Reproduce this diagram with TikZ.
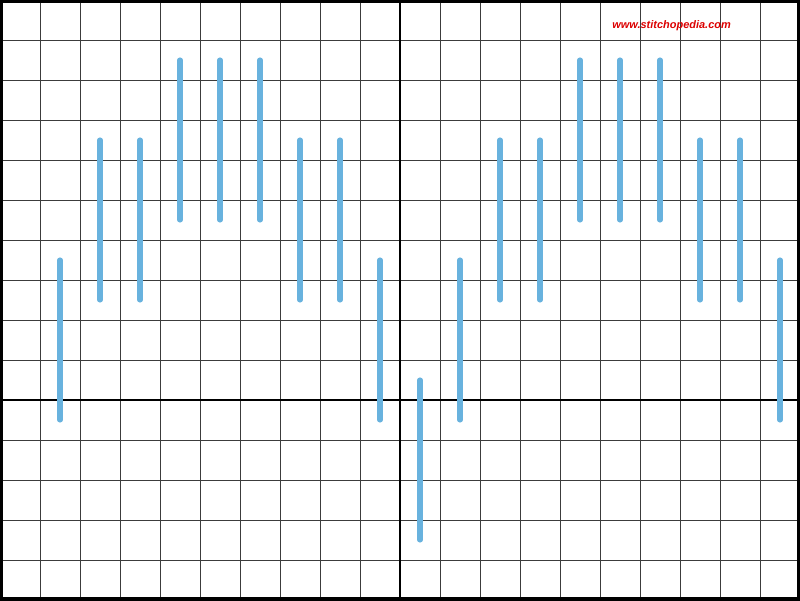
\documentclass[tikz,border=0pt]{standalone}
\usepackage{fontspec}
\setmainfont{Liberation Sans}
\usepackage{xcolor}
\usepackage{tikz}
\definecolor{stitchblue}{RGB}{104,178,222}
\definecolor{gridgray}{RGB}{60,60,60}
\definecolor{sitered}{RGB}{220,0,0}

\begin{document}
\begin{tikzpicture}[
  gridline/.style={draw=gridgray, line width=0.7pt},
  axis/.style={draw=black, line width=2pt},
  stitch/.style={draw=stitchblue, line width=3.6pt, line cap=round},
  site/.style={font=\bfseries\itshape\fontsize{7.8}{9}\selectfont, text=sitered, inner sep=0pt}
]
\useasboundingbox (0,0) rectangle (20,15);
\fill[white] (0,0) rectangle (20,15);

% canvas grid
\foreach \x in {1,...,19} \draw[gridline] (\x,0) -- (\x,15);
\foreach \y in {1,...,14} \draw[gridline] (0,\y) -- (20,\y);
\draw[axis] (10,0) -- (10,15);
\draw[axis] (0,5) -- (20,5);
\draw[black, line width=4.5pt] (0,0) rectangle (20,15);

% stitches: column / bottom / top
\foreach \c/\b/\t in {1.5/4.5/8.5, 2.5/7.5/11.5, 3.5/7.5/11.5,
                      4.5/9.5/13.5, 5.5/9.5/13.5, 6.5/9.5/13.5,
                      7.5/7.5/11.5, 8.5/7.5/11.5, 9.5/4.5/8.5,
                      10.5/1.5/5.5, 11.5/4.5/8.5,
                      12.5/7.5/11.5, 13.5/7.5/11.5,
                      14.5/9.5/13.5, 15.5/9.5/13.5, 16.5/9.5/13.5,
                      17.5/7.5/11.5, 18.5/7.5/11.5, 19.5/4.5/8.5}
  \draw[stitch] (\c,\b) -- (\c,\t);

\node[site] (url) at (16.79,14.37) {www.stitchopedia.com};
\end{tikzpicture}
\end{document}
